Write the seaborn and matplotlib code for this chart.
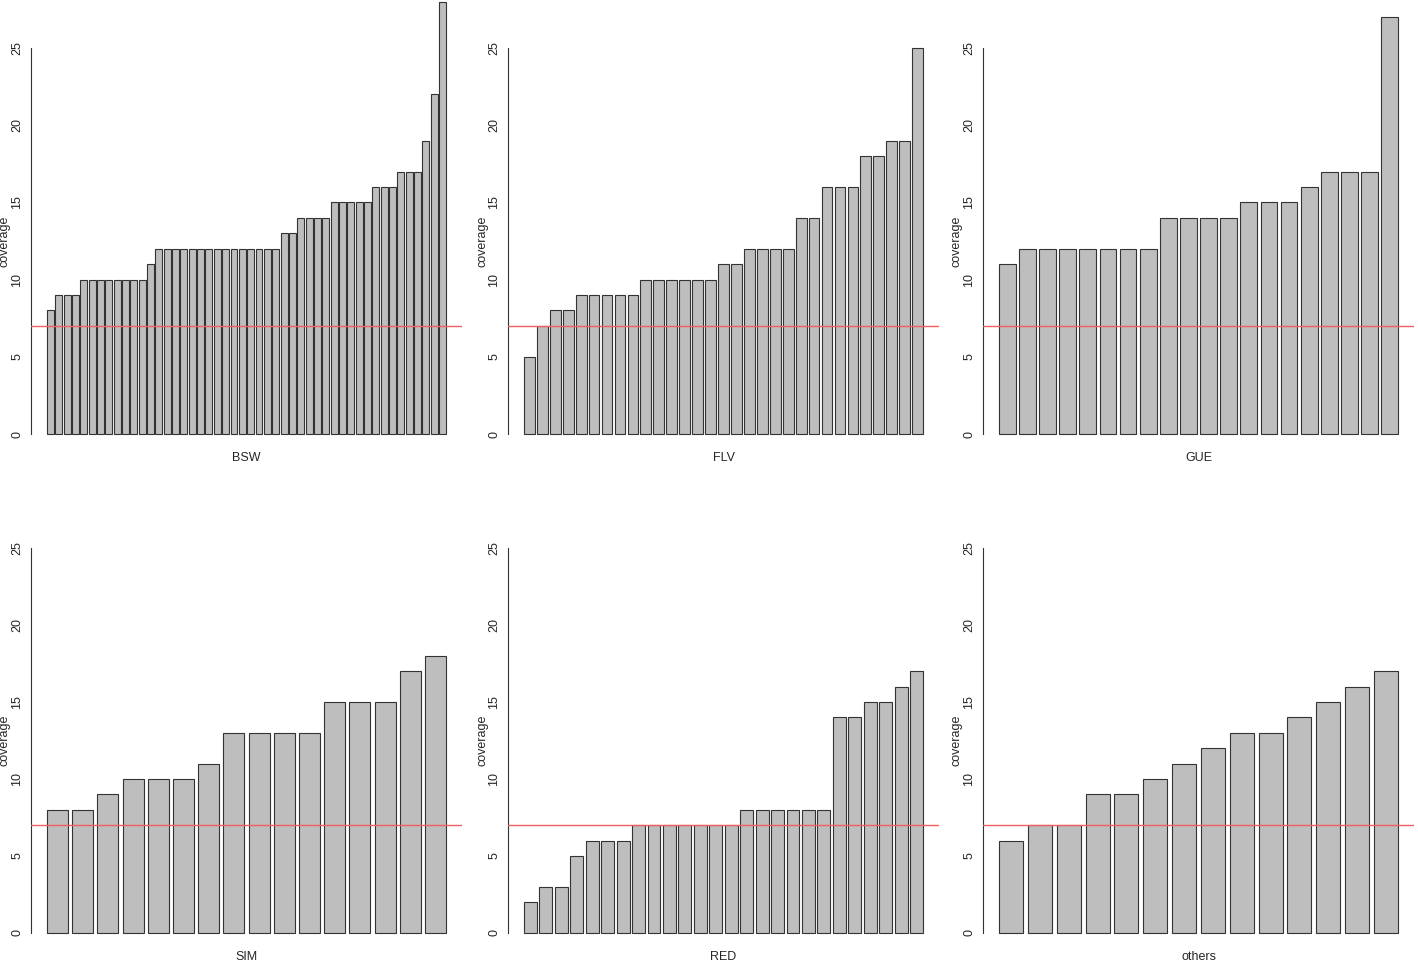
import numpy as np
import pandas as pd
import matplotlib
matplotlib.use("Agg")
import matplotlib.pyplot as plt
import seaborn as sns

# coverage per sample, sorted, one array per group
bsw = [8, 9, 9, 9, 10, 10, 10, 10, 10, 10, 10, 10, 11,
       12, 12, 12, 12, 12, 12, 12, 12, 12, 12, 12, 12, 12, 12, 12,
       13, 13, 14, 14, 14, 14, 15, 15, 15, 15, 15, 16, 16, 16,
       17, 17, 17, 19, 22, 28]
flv = [5, 7, 8, 8, 9, 9, 9, 9, 9, 10, 10, 10, 10, 10, 10, 11, 11,
       12, 12, 12, 12, 14, 14, 16, 16, 16, 18, 18, 19, 19, 25]
gue = [11, 12, 12, 12, 12, 12, 12, 12, 14, 14, 14, 14, 15, 15, 15,
       16, 17, 17, 17, 27]
sim = [8, 8, 9, 10, 10, 10, 11, 13, 13, 13, 13, 15, 15, 15, 17, 18]
red = [2, 3, 3, 5, 6, 6, 6, 7, 7, 7, 7, 7, 7, 7, 8, 8, 8, 8, 8, 8,
       14, 14, 15, 15, 16, 17]
others = [6, 7, 7, 9, 9, 10, 11, 12, 13, 13, 14, 15, 16, 17]

groups = ["BSW", "FLV", "GUE", "SIM", "RED", "others"]
series = [bsw, flv, gue, sim, red, others]
threshold = 7

sns.set_style("white")
plt.rcParams["font.family"] = ["Liberation Sans", "DejaVu Sans"]

W, H = 1418, 964
fig = plt.figure(figsize=(W / 100, H / 100), dpi=100)

col_left = [31, 508, 983]
panel_w = 431
rows = [(434, 48), (933, 548)]   # pixel y of value 0 and value 25
bar_w = 1 / 1.2

for k, (name, vals) in enumerate(zip(groups, series)):
    r, c = divmod(k, 3)
    y0, y25 = rows[r]
    ax = fig.add_axes([col_left[c] / W, 1 - y0 / H, panel_w / W, (y0 - y25) / H])
    df = pd.DataFrame({"idx": np.arange(len(vals)), "coverage": vals})
    sns.barplot(data=df, x="idx", y="coverage", color="#bebebe", saturation=1,
                edgecolor="#333333", linewidth=0.8, width=bar_w, ax=ax)
    for p in ax.patches:
        p.set_clip_on(False)
    n = len(vals)
    ext = 0.04 * (n - 1 + bar_w)
    ax.set_xlim(-bar_w / 2 - ext, n - 1 + bar_w / 2 + ext)
    ax.set_ylim(0, 25)
    ax.axhline(threshold, color="#f06060", lw=1.0, zorder=5)

    for s in ["top", "right", "bottom"]:
        ax.spines[s].set_visible(False)
    ax.spines["left"].set_color("#333333")
    ax.spines["left"].set_linewidth(0.8)
    ax.spines["left"].set_bounds(0, 25)
    ax.set_yticks([0, 5, 10, 15, 20, 25])
    ax.tick_params(axis="y", length=4, width=0.8, color="#333333",
                   labelsize=9, pad=1.5, labelrotation=90)
    for t in ax.get_yticklabels():
        t.set_verticalalignment("center")
    ax.set_xticks([])
    ax.set_ylabel("")
    ax.set_xlabel(name, fontsize=9, labelpad=13)
    ax.patch.set_alpha(0)

    # y label placed like R's mtext, centred on the panel
    fig.text((col_left[c] - 26) / W, 1 - (y0 + y25) / 2 / H, "coverage",
             rotation=90, ha="center", va="center", fontsize=9)

fig.savefig("out.png", dpi=100)
